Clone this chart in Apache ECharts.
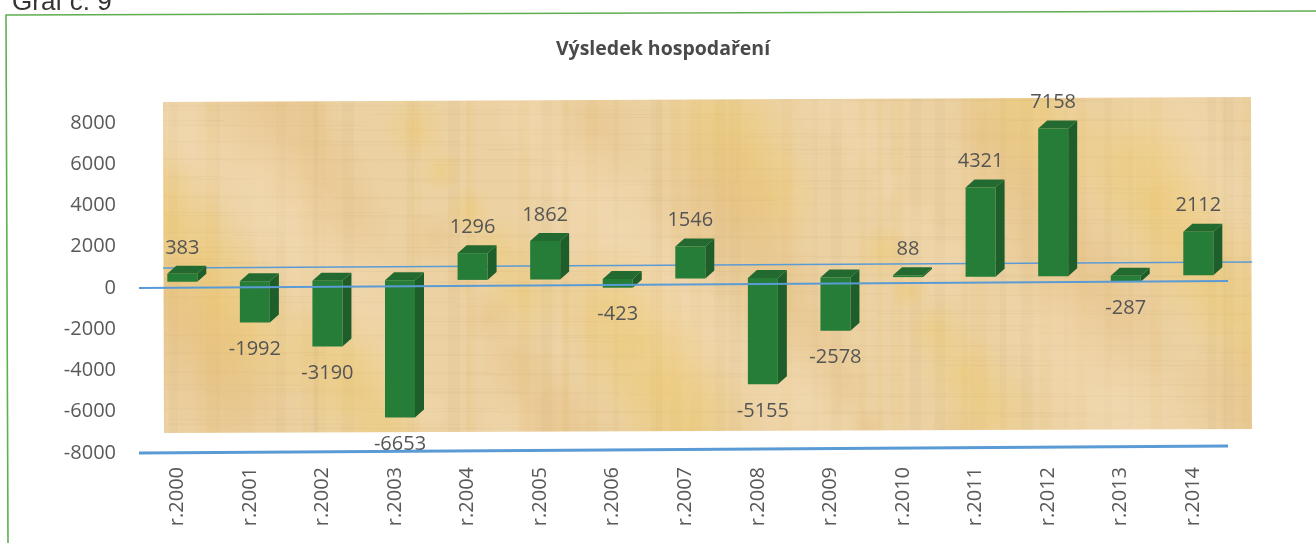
<!DOCTYPE html>
<html><head><meta charset="utf-8">
<script src="https://cdn.jsdelivr.net/npm/echarts@6/dist/echarts.min.js"></script>
<style>html,body{margin:0;padding:0;background:#fff}#c{width:1316px;height:543px}</style>
</head><body><div id="c"></div>
<script>
var categories = ['r.2000','r.2001','r.2002','r.2003','r.2004','r.2005','r.2006','r.2007','r.2008','r.2009','r.2010','r.2011','r.2012','r.2013','r.2014'];
var values = [383,-1992,-3190,-6653,1296,1862,-423,1546,-5155,-2578,88,4321,7158,-287,2112];
var yTicks = {min:-8000,max:8000,interval:2000};
var titleText = 'Výsledek hospodaření';
var captionText = 'Graf č. 9';
// hand-drawn guide lines: [position in category units, value]
var upperGuide = [[0.33,970],[15.29,1260]];
var zeroGuide = [[0,0],[14.96,340]];
var bottomGuide = [[0,-8000],[14.96,-7660]];

var FONT = '"Open Sans", sans-serif';

function papyrus(){
  var cv=document.createElement('canvas');cv.width=1316;cv.height=543;
  var g=cv.getContext('2d');
  g.fillStyle='#ecd2a3';g.fillRect(0,0,1316,543);
  var i,t;
  for(i=0;i<70;i++){ // faint vertical fibres
    var x=(i*97.3+Math.sin(i*1.7)*40+1316)%1316, w=2+Math.abs(Math.sin(i*2.3))*10;
    t=Math.sin(i*3.1);
    g.fillStyle=t>0.2?'rgba(225,190,95,0.10)':(t<-0.4?'rgba(190,150,100,0.07)':'rgba(245,228,195,0.10)');
    g.fillRect(x,90,w,350);
  }
  for(i=0;i<130;i++){ // horizontal fibres
    var y=90+i*2.8+Math.sin(i*0.9)*2, a=0.03+Math.abs(Math.sin(i*1.3))*0.06;
    g.fillStyle='rgba(170,135,85,'+a+')';
    var s=(i*211)%1316, l=120+Math.abs(Math.sin(i*0.7))*420;
    g.fillRect(s,y,l,1);
    g.fillRect(s-1316,y,l,1);
  }
  for(i=0;i<110;i++){ // soft mottled patches
    var px=(i*173.7)%1316, py=90+(i*67.3)%350, r=18+Math.abs(Math.sin(i*1.9))*55;
    var gr=g.createRadialGradient(px,py,0,px,py,r);
    var c=i%3==0?'236,195,85':(i%3==1?'246,222,188':'226,182,115');
    gr.addColorStop(0,'rgba('+c+',0.30)');gr.addColorStop(1,'rgba('+c+',0)');
    g.fillStyle=gr;g.fillRect(px-r,py-r,2*r,2*r);
  }
  return cv;
}

function renderBar(params, api){
  var idx=api.value(0), val=api.value(1);
  var zero=api.coord([idx,0]), end=api.coord([idx,val]);
  var cx=zero[0];
  // the scanned page is tilted: the bar floor drifts upward to the right
  var shift=-6-(cx-139)*0.0064;
  var x0=cx-10, x1=cx+20, dx=9, dy=8;
  var yTop=Math.min(zero[1],end[1])+shift, yBot=Math.max(zero[1],end[1])+shift;
  var labelY=val>=0 ? yTop-dy-18 : yBot+27;
  return {type:'group',children:[
    {type:'polygon',shape:{points:[[x1,yTop],[x1+dx,yTop-dy],[x1+dx,yBot-dy],[x1,yBot]]},style:{fill:'#1d5e2a'}},
    {type:'polygon',shape:{points:[[x0,yTop],[x0+dx,yTop-dy],[x1+dx,yTop-dy],[x1,yTop]]},style:{fill:'#226a2f'}},
    {type:'rect',shape:{x:x0,y:yTop,width:x1-x0,height:yBot-yTop},style:{fill:'#257d38'}},
    {type:'text',style:{x:cx+5,y:labelY,text:String(val),align:'center',verticalAlign:'middle',fill:'#555',font:'20px '+FONT}}
  ]};
}

var chart=echarts.init(document.getElementById('c'),null,{renderer:'canvas'});
function guide(data,width,z,name){
  return {type:'line',name:name,xAxisIndex:1,yAxisIndex:1,data:data,symbol:'none',silent:true,clip:false,z:z,
    lineStyle:{color:'#5b9bd5',width:width}};
}
chart.setOption({
  animation:false,
  backgroundColor:'#ffffff',
  title:{text:titleText,left:658,top:34,textAlign:'center',textStyle:{fontFamily:FONT,fontSize:19.5,fontWeight:'bold',color:'#4a4a4a'}},
  grid:[
    {left:141,top:123,width:1088.6,height:330},
    {left:139,top:123,width:1120,height:330}
  ],
  xAxis:[
    {type:'category',gridIndex:0,data:categories,position:'bottom',axisLine:{show:false,onZero:false},axisTick:{show:false},
      axisLabel:{rotate:90,margin:14,interval:0,color:'#595959',fontFamily:FONT,fontSize:20}},
    {type:'value',gridIndex:1,min:0,max:15.385,show:false}
  ],
  yAxis:[
    {type:'value',gridIndex:0,min:yTicks.min,max:yTicks.max,interval:yTicks.interval,
      axisLine:{show:false},axisTick:{show:false},splitLine:{show:false},
      axisLabel:{margin:25,color:'#595959',fontFamily:FONT,fontSize:20,formatter:function(v){return String(v);}}},
    {type:'value',gridIndex:1,min:yTicks.min,max:yTicks.max,show:false}
  ],
  graphic:[
    {type:'polygon',z:-10,silent:true,shape:{points:[[163,102],[1251,97],[1252,429],[164,433]]},style:{fill:{image:papyrus(),repeat:'repeat'}}},
    {type:'polyline',z:-5,silent:true,shape:{points:[[8,543],[6,15],[1316,11]]},style:{fill:'none',stroke:'#5fae52',lineWidth:1.6}},
    {type:'text',z:-5,silent:true,style:{x:12,y:16,text:captionText,verticalAlign:'bottom',fill:'#333',font:'26px "Liberation Sans", Arial, sans-serif'}}
  ],
  series:[
    guide(upperGuide,1.5,1,'upper'),
    {type:'custom',name:'Výsledek',xAxisIndex:0,yAxisIndex:0,z:3,clip:false,renderItem:renderBar,encode:{x:0,y:1},
      data:values.map(function(v,i){return [i,v];})},
    guide(zeroGuide,2,4,'zero'),
    guide(bottomGuide,3,4,'bottom')
  ]
});
</script></body></html>
